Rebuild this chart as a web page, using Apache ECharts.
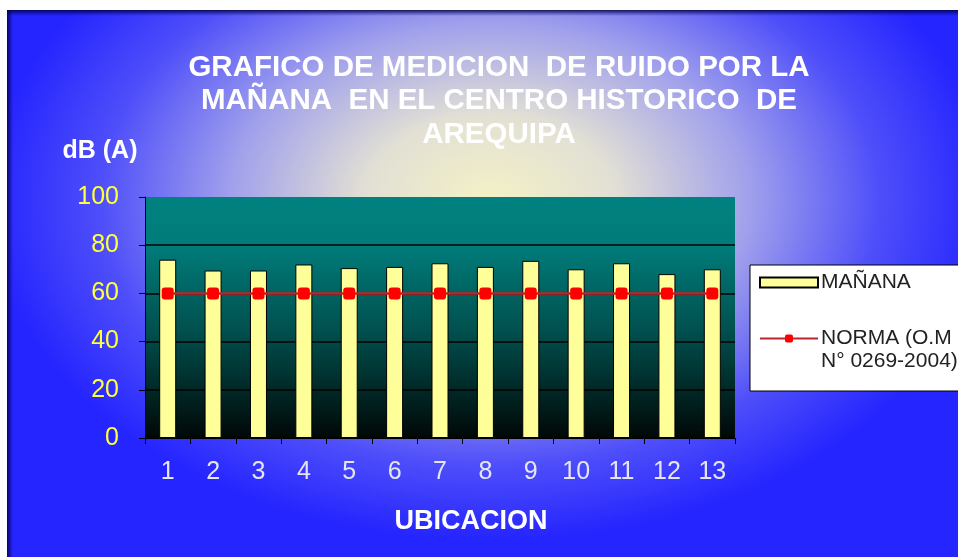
<!DOCTYPE html>
<html lang="es">
<head>
    <meta charset="utf-8">
    <title>Medicion de ruido - Arequipa</title>
    <script src="https://cdn.jsdelivr.net/npm/echarts@6/dist/echarts.min.js"></script>
    <style type="text/css">
        html, body {
            margin: 0;
            padding: 0;
            background: #fff;
        }

        #main {
            width: 958px;
            height: 557px;
        }
    </style>
</head>
<body>
<div id="main"></div>

<script type="text/javascript">
    // datos del grafico
    var ubicaciones = ['1', '2', '3', '4', '5', '6', '7', '8', '9', '10', '11', '12', '13'];
    var manana = [74, 69.5, 69.5, 72, 70.5, 71, 72.5, 71, 73.5, 70, 72.5, 68, 70];
    var norma = [60, 60, 60, 60, 60, 60, 60, 60, 60, 60, 60, 60, 60];
    var nombreManana = 'MAÑANA';
    var nombreNorma = 'NORMA (O.M\nN° 0269-2004)';

    var W = 958, H = 557;
    var myChart = echarts.init(document.getElementById('main'));

    // fondo azul con centro claro (elipse)
    var cx = 490, cy = 200, sy = 0.68;
    var option = {
        animation: false,
        graphic: [
            {
                type: 'rect', z: -10, silent: true,
                shape: {x: 0, y: 0, width: W, height: H},
                style: {fill: '#ffffff'}
            },
            {
                type: 'rect', z: -9, silent: true,
                x: cx, y: cy, scaleY: sy,
                shape: {x: 7 - cx, y: (10 - cy) / sy, width: W - 7, height: (H - 10) / sy},
                style: {
                    fill: new echarts.graphic.RadialGradient(0, 0, 500, [
                        {offset: 0, color: '#F4F1C6'},
                        {offset: 0.25, color: '#E2E0D4'},
                        {offset: 0.52, color: '#A0A0EC'},
                        {offset: 0.78, color: '#4E4EFA'},
                        {offset: 1, color: '#2525FF'}
                    ], true)
                }
            },
            {
                type: 'rect', z: -8, silent: true,
                shape: {x: 7, y: 10, width: W - 7, height: 6},
                style: {
                    fill: new echarts.graphic.LinearGradient(0, 0, 0, 1, [
                        {offset: 0, color: 'rgba(0,0,60,0.85)'},
                        {offset: 1, color: 'rgba(0,0,120,0)'}
                    ])
                }
            },
            {
                type: 'rect', z: -8, silent: true,
                shape: {x: 7, y: 10, width: 6, height: H - 10},
                style: {
                    fill: new echarts.graphic.LinearGradient(0, 0, 1, 0, [
                        {offset: 0, color: 'rgba(0,0,60,0.85)'},
                        {offset: 1, color: 'rgba(0,0,120,0)'}
                    ])
                }
            },
            {
                type: 'text', silent: true,
                style: {
                    text: 'GRAFICO DE MEDICION  DE RUIDO POR LA\nMAÑANA  EN EL CENTRO HISTORICO  DE\nAREQUIPA',
                    x: 499, y: 101,
                    textAlign: 'center', textVerticalAlign: 'middle',
                    font: 'bold 29.5px "Liberation Sans", Arial, sans-serif',
                    lineHeight: 33.5,
                    fill: '#ffffff'
                }
            },
            {
                type: 'text', silent: true,
                style: {
                    text: 'dB (A)',
                    x: 100, y: 151,
                    textAlign: 'center', textVerticalAlign: 'middle',
                    font: 'bold 25px "Liberation Sans", Arial, sans-serif',
                    fill: '#ffffff'
                }
            },
            {
                type: 'text', silent: true,
                style: {
                    text: 'UBICACION',
                    x: 471, y: 522,
                    textAlign: 'center', textVerticalAlign: 'middle',
                    font: 'bold 27px "Liberation Sans", Arial, sans-serif',
                    fill: '#ffffff'
                }
            }
        ],
        legend: {
            orient: 'vertical',
            left: 750,
            top: 265,
            backgroundColor: '#ffffff',
            borderColor: '#000000',
            borderWidth: 1,
            borderRadius: 0,
            padding: [6, 60, 18, 9],
            itemGap: 10,
            itemWidth: 58,
            itemHeight: 10,
            textStyle: {
                color: '#222222',
                fontSize: 21,
                lineHeight: 23,
                fontFamily: '"Liberation Sans", Arial, sans-serif',
                padding: [0, 0, 0, -2]
            },
            formatter: function (name) {
                // linea vacia para que el icono quede en la primera linea
                return name.indexOf('\n') > 0 ? ' \n' + name : name;
            },
            data: [
                {name: nombreManana, icon: 'rect'},
                {name: nombreNorma}
            ]
        },
        grid: {
            left: 145,
            right: 223,
            top: 197,
            bottom: 119,
            show: true,
            borderWidth: 0,
            backgroundColor: new echarts.graphic.LinearGradient(0, 0, 0, 1, [
                {offset: 0, color: '#008280'},
                {offset: 0.2, color: '#007C7A'},
                {offset: 0.55, color: '#00514F'},
                {offset: 1, color: '#000807'}
            ])
        },
        xAxis: {
            type: 'category',
            data: ubicaciones,
            axisLine: {lineStyle: {color: '#000000', width: 1}},
            axisTick: {show: true, length: 6, alignWithLabel: false, lineStyle: {color: '#000000'}},
            axisLabel: {
                color: '#E6E6F2',
                fontSize: 25,
                margin: 22,
                fontFamily: '"Liberation Sans", Arial, sans-serif'
            }
        },
        yAxis: {
            type: 'value',
            min: 0,
            max: 100,
            interval: 20,
            axisLine: {show: true, lineStyle: {color: '#000000', width: 1}},
            axisTick: {show: true, length: 6, lineStyle: {color: '#000000'}},
            axisLabel: {
                color: '#FFFF3A',
                fontSize: 25,
                margin: 26,
                fontFamily: '"Liberation Sans", Arial, sans-serif'
            },
            splitLine: {
                show: true,
                showMaxLine: false,
                showMinLine: false,
                lineStyle: {color: '#000000', width: 1.5}
            }
        },
        series: [
            {
                name: nombreManana,
                type: 'bar',
                data: manana,
                barWidth: 17,
                itemStyle: {
                    color: '#FFFF99',
                    borderColor: '#000000',
                    borderWidth: 1
                }
            },
            {
                name: nombreNorma,
                type: 'line',
                data: norma,
                symbol: 'roundRect',
                symbolSize: 12,
                z: 5,
                lineStyle: {color: '#B8262B', width: 2.5},
                itemStyle: {color: '#FF0000'}
            }
        ]
    };
    myChart.setOption(option);
</script>
</body>
</html>
